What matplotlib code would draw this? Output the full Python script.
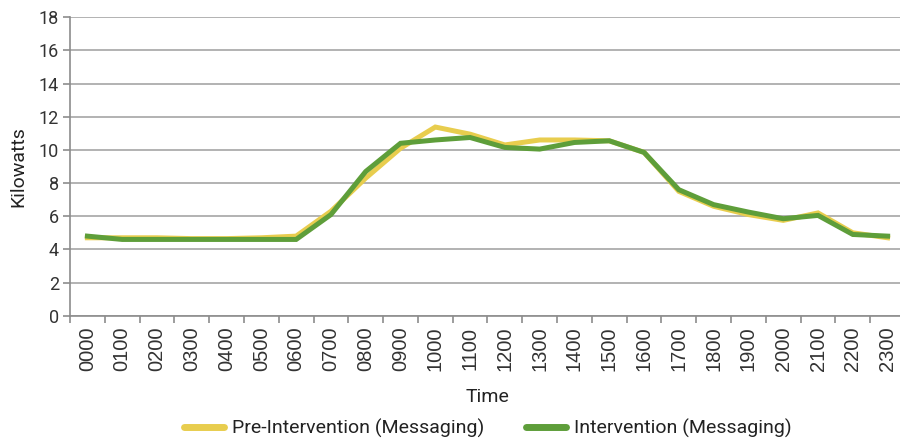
import matplotlib
matplotlib.use("Agg")
import matplotlib.pyplot as plt
import numpy as np

times = ["0000","0100","0200","0300","0400","0500","0600","0700","0800","0900","1000","1100",
         "1200","1300","1400","1500","1600","1700","1800","1900","2000","2100","2200","2300"]
pre = [4.7, 4.7, 4.7, 4.65, 4.65, 4.7, 4.8, 6.3, 8.3, 10.1, 11.38, 10.95,
       10.3, 10.6, 10.6, 10.55, 9.85, 7.5, 6.6, 6.1, 5.75, 6.2, 5.0, 4.7]
intv = [4.8, 4.6, 4.6, 4.6, 4.6, 4.6, 4.6, 6.1, 8.7, 10.4, 10.6, 10.75,
        10.15, 10.05, 10.45, 10.55, 9.85, 7.6, 6.7, 6.25, 5.85, 6.05, 4.9, 4.8]
yticks = list(range(0, 19, 2))

font = ["Roboto", "DejaVu Sans"]

fig = plt.figure(figsize=(9, 4.4), dpi=100)
ax_h = (315.7 - 17.3) / 440
ax = fig.add_axes([70/900, 1-315.7/440, 835/900, ax_h])

x = np.arange(len(times))
ax.plot(x, pre, color="#E8CD4E", lw=3.6, solid_joinstyle="miter", label="Pre-Intervention (Messaging)")
ax.plot(x, intv, color="#5E9E3A", lw=3.6, solid_joinstyle="miter", label="Intervention (Messaging)")

ax.set_xlim(-0.5, len(times)-0.5)
ax.set_ylim(0, 18)
ax.set_yticks(yticks)
ax.set_yticklabels([str(v) for v in yticks], fontsize=13, color="#333333", family=font)
ax.set_xticks(x)
ax.set_xticklabels(times, rotation=90, fontsize=14.5, color="#333333", family=["Liberation Sans", "DejaVu Sans"])
ax.set_xticks(np.arange(-0.5, len(times)), minor=True)
ax.tick_params(axis="x", which="major", length=0, pad=8)
ax.tick_params(axis="x", which="minor", length=5, width=1.2, color="#8C8C8C", direction="out")
ax.tick_params(axis="y", length=5, width=1.2, color="#8C8C8C", direction="out", pad=3)

ax.grid(axis="y", color="#9E9E9E", lw=1.1)
ax.set_axisbelow(True)
for s in ["top", "right"]:
    ax.spines[s].set_visible(False)
for s in ["left", "bottom"]:
    ax.spines[s].set_color("#8C8C8C")
    ax.spines[s].set_linewidth(1.2)

ax.set_ylabel("Kilowatts", fontsize=14, color="#222222", family=font, labelpad=8)
ax.set_xlabel("Time", fontsize=14, color="#222222", family=font, labelpad=12)

leg_y = -(428 - 315.7) / (ax_h * 440)
leg = ax.legend(loc="center", bbox_to_anchor=(0.5, leg_y), ncol=2, frameon=False,
                prop={"family": font, "size": 14}, handlelength=2.06, columnspacing=2.16,
                handletextpad=0.41, borderaxespad=0, borderpad=0)
for h in leg.get_lines():
    h.set_linewidth(5)
    h.set_solid_capstyle("round")
for t in leg.get_texts():
    t.set_color("#222222")

fig.savefig("out.png", dpi=100)
